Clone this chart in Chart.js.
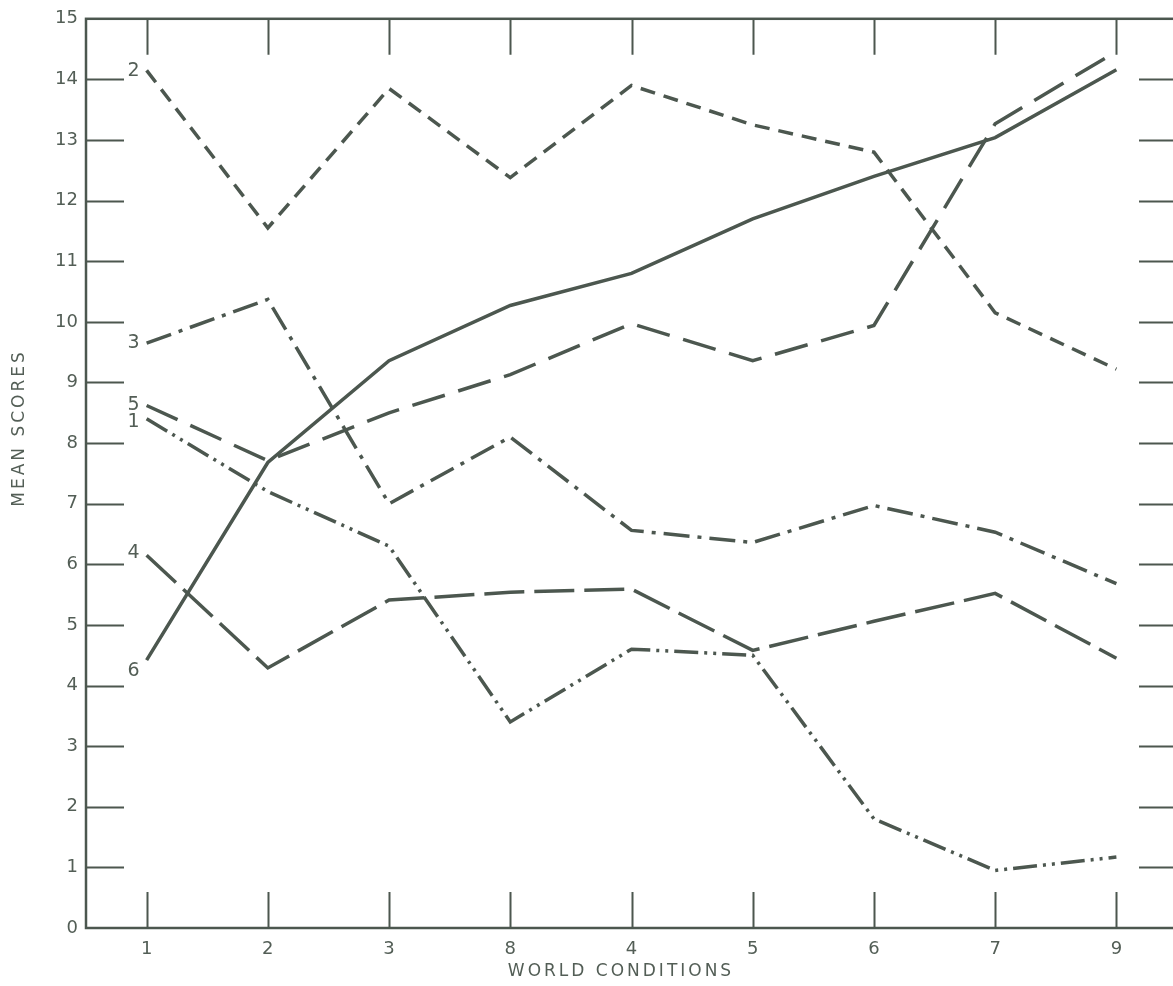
<!DOCTYPE html>
<html>
<head>
<meta charset="utf-8">
<script src="https://cdn.jsdelivr.net/npm/chart.js@4/dist/chart.umd.min.js"></script>
<style>
  html, body { margin: 0; padding: 0; background: #fff; overflow: hidden; }
  canvas { display: block; }
</style>
</head>
<body>
<canvas id="chart" width="1180" height="986"></canvas>
<script>
// world conditions in the order they appear along the x axis
const conditions = ["1", "2", "3", "8", "4", "5", "6", "7", "9"];
const seriesNames = ["1", "2", "3", "4", "5", "6"];

// mean scores
const group1 = [8.4, 7.2, 6.3, 3.4, 4.6, 4.5, 1.8, 0.95, 1.17];
const group2 = [14.15, 11.55, 13.85, 12.38, 13.9, 13.25, 12.8, 10.15, 9.22];
const group3 = [9.65, 10.37, 7.0, 8.1, 6.56, 6.36, 6.97, 6.53, 5.68];
const group4 = [6.15, 4.29, 5.41, 5.54, 5.59, 4.58, 5.06, 5.52, 4.45];
const group5 = [8.62, 7.71, 8.5, 9.13, 9.97, 9.36, 9.94, 13.27, 14.46];
const group6 = [4.42, 7.68, 9.36, 10.27, 10.8, 11.7, 12.4, 13.04, 14.16];

const yMin = 0;
const yMax = 15;

const ink = "#4c574f";
const textInk = "#535e56";
const fontFamily = "'DejaVu Sans', sans-serif";

const dashes = [
  [24, 6, 3, 6, 3, 6],
  [15, 9],
  [26, 8, 4, 8],
  [40, 10],
  [34, 14],
  [],
];
// small nudges for the number written at the start of each line
const labelNudge = [3, 1, 0, -2, 0, 11];

const groups = [group1, group2, group3, group4, group5, group6];

const frameAndLabels = {
  id: "frameAndLabels",
  afterDraw(chart) {
    const { ctx, chartArea: a, scales } = chart;
    const x = scales.x;
    const y = scales.y;
    ctx.save();
    ctx.strokeStyle = ink;
    ctx.lineWidth = 2.5;
    ctx.strokeRect(a.left, a.top, a.right - a.left, a.bottom - a.top);

    // inward tick marks on all four sides
    ctx.lineWidth = 2;
    ctx.beginPath();
    for (let v = yMin + 1; v < yMax; v++) {
      const py = Math.round(y.getPixelForValue(v)) + 0.5;
      ctx.moveTo(a.left, py);
      ctx.lineTo(a.left + 38, py);
      ctx.moveTo(a.right - 38, py);
      ctx.lineTo(a.right, py);
    }
    conditions.forEach((c, i) => {
      const px = Math.round(x.getPixelForValue(i)) + 0.5;
      ctx.moveTo(px, a.top);
      ctx.lineTo(px, a.top + 36);
      ctx.moveTo(px, a.bottom);
      ctx.lineTo(px, a.bottom - 36);
    });
    ctx.stroke();

    // series numbers at the start of each line
    ctx.fillStyle = textInk;
    ctx.font = "19px " + fontFamily;
    ctx.textAlign = "center";
    ctx.textBaseline = "middle";
    groups.forEach((g, i) => {
      const px = x.getPixelForValue(0) - 13;
      const py = y.getPixelForValue(g[0]) + labelNudge[i];
      ctx.fillText(seriesNames[i], px, py);
    });

    // axis titles
    ctx.font = "17px " + fontFamily;
    ctx.letterSpacing = "3px";
    ctx.fillText("WORLD CONDITIONS", 621, 972);
    ctx.letterSpacing = "3px";
    ctx.translate(20, 428);
    ctx.rotate(-Math.PI / 2);
    ctx.fillText("MEAN SCORES", 0, 0);
    ctx.restore();
  },
};

const ctx = document.getElementById("chart").getContext("2d");

new Chart(ctx, {
  type: "line",
  data: {
    labels: conditions,
    datasets: groups.map((g, i) => ({
      label: seriesNames[i],
      data: g,
      borderColor: ink,
      borderWidth: 3.5,
      borderDash: dashes[i],
      borderCapStyle: "butt",
      pointRadius: 0,
      tension: 0,
      fill: false,
    })),
  },
  options: {
    responsive: false,
    animation: false,
    layout: { padding: { top: 18, right: 3, left: 0, bottom: 0 } },
    plugins: {
      legend: { display: false },
      tooltip: { enabled: false },
    },
    scales: {
      x: {
        type: "category",
        offset: true,
        grid: { display: false, drawTicks: false },
        border: { display: false },
        ticks: { color: textInk, font: { family: fontFamily, size: 18 }, padding: 11 },
        afterFit(scale) { scale.height = 58; },
      },
      y: {
        min: yMin,
        max: yMax,
        grid: { display: false, drawTicks: false },
        border: { display: false },
        ticks: { stepSize: 1, color: textInk, font: { family: fontFamily, size: 18 }, padding: 8 },
        afterFit(scale) { scale.width = 86; },
      },
    },
  },
  plugins: [frameAndLabels],
});
</script>
</body>
</html>
